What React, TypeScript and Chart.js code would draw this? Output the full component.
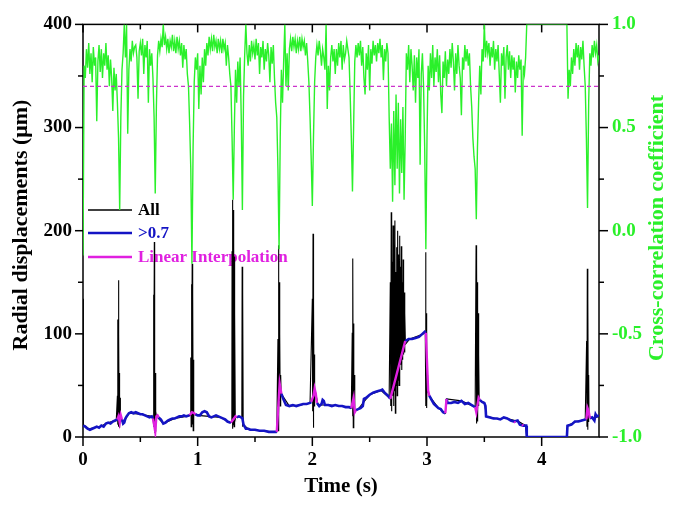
import React, { useEffect, useRef } from "react";
import { Chart, registerables } from "chart.js";

Chart.register(...registerables);

const FONT = "'Liberation Serif', 'Times New Roman', serif";
const GREEN = "#2af02a";
const BLUE = "#1414c4";
const MAGENTA = "#e020e0";

// axes
const xMajorTicks = [0, 1, 2, 3, 4];
const xMinorTicks = [0.5, 1.5, 2.5, 3.5];
const leftMajorTicks = [0, 100, 200, 300, 400];
const leftMinorTicks = [50, 150, 250, 350];
const rightMajorTicks = [-1.0, -0.5, 0.0, 0.5, 1.0];
const rightMinorTicks = [-0.75, -0.25, 0.25, 0.75];
const xRange = [0, 4.5];
const leftRange = [0, 400];
const rightRange = [-1, 1];
const threshold = 0.7;

const seriesNames = ["All", ">0.7", "Linear Interpolation"];
const xTitle = "Time (s)";
const leftTitle = "Radial displacements (\u03bcm)";
const rightTitle = "Cross-correlation coefficient";

// cross-correlation coefficient, sampled every 0.01 s from t = 0
const greenStep = 0.01;
const greenValues = [
  -0.12, 0.80, 0.74, 0.88, 0.79, 0.91, 0.76, 0.86, 0.72, 0.89,
  0.80, 0.84, 0.53, 0.82, 0.90, 0.77, 0.88, 0.74, 0.86, 0.80,
  0.91, 0.78, 0.85, 0.70, 0.83, 0.74, 0.58, 0.79, 0.68, 0.76,
  0.62, 0.45, 0.10, 0.55, 0.78, 0.86, 1.0, 0.84, 1.0, 0.47,
  0.78, 0.88, 0.82, 0.92, 0.86, 0.89, 0.90, 0.84, 0.64, 0.87,
  0.91, 0.85, 0.93, 0.76, 0.90, 0.84, 0.92, 0.62, 0.88, 0.80,
  0.86, 0.74, 0.55, 0.18, 0.60, 0.85, 0.92, 0.87, 0.93, 0.89,
  1.0, 0.90, 0.94, 0.88, 0.93, 0.86, 0.92, 0.89, 0.95, 0.87,
  0.92, 0.86, 0.94, 0.88, 0.92, 0.85, 0.91, 0.79, 0.90, 0.83,
  0.88, 0.76, 0.70, 0.52, 0.30, -0.16, 0.40, 0.72, 0.84, 0.78,
  0.86, 0.59, 0.80, 0.66, 0.84, 0.72, 0.88, 0.80, 0.91, 0.85,
  0.94, 0.88, 0.93, 0.87, 0.95, 0.89, 0.92, 0.86, 0.93, 0.88,
  0.92, 0.86, 0.93, 0.88, 0.91, 0.80, 0.90, 0.84, 0.76, 0.70,
  0.45, 0.15, 0.50, 0.78, 0.62, 0.82, 0.70, 0.84, 0.55, 0.10,
  0.65, 0.85, 1.0, 0.86, 0.80, 0.90, 0.82, 0.92, 0.86, 0.90,
  0.83, 0.93, 0.85, 0.91, 0.76, 0.89, 0.84, 0.92, 0.78, 0.88,
  0.82, 0.91, 0.85, 0.72, 0.89, 0.81, 0.90, 0.74, 0.62, 0.55,
  0.30, -0.09, 0.45, 0.78, 0.62, 0.82, 1.0, 0.70, 0.86, 0.68,
  0.88, 0.93, 0.87, 0.94, 0.89, 0.93, 0.86, 0.92, 0.88, 0.94,
  0.87, 0.93, 0.89, 0.92, 0.85, 0.91, 0.82, 0.72, 0.55, 0.35,
  0.12, 0.45, 0.72, 0.84, 0.90, 0.85, 0.92, 0.87, 0.80, 0.88,
  0.84, 0.78, 1.0, 0.59, 0.80, 0.68, 0.84, 0.90, 0.82, 0.88,
  0.76, 0.88, 0.80, 0.91, 0.84, 0.92, 0.78, 0.90, 0.83, 0.86,
  0.92, 0.88, 0.84, 0.66, 0.45, 0.19, 0.50, 0.82, 0.90, 0.84,
  0.91, 0.85, 0.92, 0.80, 0.89, 0.74, 0.66, 0.86, 0.78, 0.90,
  0.68, 0.88, 0.81, 0.92, 0.85, 0.90, 0.82, 0.91, 0.86, 0.93,
  0.84, 0.90, 0.73, 0.88, 0.82, 0.91, 0.86, 0.55, 0.30, 0.52,
  0.14, 0.58, 0.22, 0.66, 0.30, 0.62, 0.18, 0.54, 0.28, 0.60,
  0.15, 0.45, 0.86, 0.78, 0.90, 0.72, 0.88, 0.80, 0.68, 0.85,
  0.62, 0.84, 0.74, 0.88, 0.32, 0.76, 0.86, 0.70, 0.40, -0.09,
  0.45, 0.80, 0.68, 0.86, 0.74, 0.90, 0.70, 0.84, 0.77, 0.88,
  0.72, 0.85, 0.66, 0.57, 0.82, 0.74, 0.87, 0.70, 0.83, 0.76,
  0.88, 0.79, 0.91, 0.82, 0.68, 0.86, 0.76, 0.90, 0.80, 0.74,
  0.56, 0.84, 0.78, 0.90, 0.82, 0.88, 0.80, 0.86, 0.70, 0.60,
  0.45, 0.36, 0.30, 0.055, 0.40, 0.62, 0.80, 0.66, 0.88, 0.82,
  1.0, 0.84, 0.92, 0.86, 0.91, 0.80, 0.89, 0.84, 0.92, 0.78,
  0.88, 0.82, 0.90, 0.76, 0.62, 0.86, 0.80, 0.89, 0.64, 0.84,
  0.90, 0.78, 0.87, 0.74, 0.85, 0.78, 0.84, 0.67, 0.82, 0.74,
  0.85, 0.78, 0.83, 0.46, 0.80, 0.76, 0.84, 1.0, 1.0, 1.0,
  1.0, 1.0, 1.0, 1.0, 1.0, 1.0, 1.0, 1.0, 1.0, 1.0,
  1.0, 1.0, 1.0, 1.0, 1.0, 1.0, 1.0, 1.0, 1.0, 1.0,
  1.0, 1.0, 1.0, 1.0, 1.0, 1.0, 1.0, 1.0, 1.0, 1.0,
  1.0, 1.0, 1.0, 0.64, 0.78, 0.70, 0.84, 0.76, 0.88, 0.80,
  0.91, 0.84, 0.90, 0.78, 0.89, 0.83, 0.92, 0.80, 0.70, 0.45,
  0.11, 0.62, 0.86, 0.80, 0.90, 0.84, 0.92, 0.86, 0.90, 0.82,
  0.85,
];

// [time (s), displacement (um)] — "All"
const allSeries: [number, number][] = [
  [0.0, 134], [0.003, 12], [0.05, 8], [0.1, 9], [0.15, 10], [0.2, 13], [0.25, 15], [0.29, 16],
  [0.3, 40], [0.302, 12], [0.305, 114], [0.307, 15], [0.309, 152], [0.311, 10], [0.313, 100], [0.315, 18], [0.318, 62], [0.32, 9], [0.323, 38], [0.326, 20],
  [0.35, 13], [0.4, 23], [0.5, 22], [0.6, 20],
  [0.612, 18], [0.615, 138], [0.618, 10], [0.622, 189], [0.625, 4], [0.628, 62], [0.632, 5], [0.636, 25], [0.64, 20],
  [0.7, 13], [0.8, 18], [0.9, 20], [0.935, 21],
  [0.94, 77], [0.943, 10], [0.946, 148], [0.949, 18], [0.952, 168], [0.955, 12], [0.958, 140], [0.961, 6], [0.964, 75], [0.967, 20], [0.97, 23],
  [1.0, 21], [1.1, 20], [1.2, 19], [1.28, 14],
  [1.298, 14], [1.3, 180], [1.302, 8], [1.304, 230], [1.306, 10], [1.308, 200], [1.31, 12], [1.312, 220], [1.314, 15], [1.316, 190], [1.318, 10], [1.32, 175], [1.322, 18], [1.325, 120], [1.328, 20], [1.33, 19],
  [1.36, 20], [1.385, 18], [1.388, 165], [1.391, 10], [1.394, 140], [1.397, 12], [1.4, 12], [1.45, 7], [1.55, 6], [1.65, 5], [1.69, 5],
  [1.7, 95], [1.702, 6], [1.705, 186], [1.708, 20], [1.711, 150], [1.714, 35], [1.717, 100], [1.72, 30], [1.724, 60], [1.728, 42], [1.8, 30], [1.9, 31], [1.98, 33],
  [2.0, 134], [2.003, 25], [2.006, 197], [2.009, 9], [2.012, 130], [2.015, 30], [2.018, 80], [2.022, 35], [2.03, 42], [2.05, 31], [2.15, 31], [2.25, 30], [2.34, 28],
  [2.348, 101], [2.351, 20], [2.354, 173], [2.357, 9], [2.36, 110], [2.363, 15], [2.366, 60], [2.37, 25], [2.4, 27], [2.5, 41], [2.6, 45], [2.67, 38],
  [2.68, 150], [2.684, 30], [2.688, 218], [2.692, 25], [2.696, 170], [2.7, 40], [2.704, 205], [2.708, 30], [2.712, 191], [2.716, 45], [2.72, 210], [2.724, 23], [2.728, 160], [2.732, 50], [2.736, 184], [2.74, 40], [2.744, 200], [2.748, 55], [2.752, 177], [2.756, 50], [2.76, 195], [2.764, 60], [2.768, 165], [2.772, 70], [2.776, 185], [2.78, 65], [2.784, 150], [2.788, 75], [2.792, 172], [2.796, 80], [2.8, 140], [2.804, 82], [2.808, 120], [2.812, 90],
  [2.85, 95], [2.95, 99], [2.985, 101],
  [2.988, 179], [2.991, 30], [2.994, 120], [2.997, 28], [3.0, 60], [3.005, 45], [3.02, 40], [3.1, 28], [3.16, 23], [3.17, 37], [3.3, 35], [3.42, 29],
  [3.428, 186], [3.431, 13], [3.434, 168], [3.437, 20], [3.44, 150], [3.443, 15], [3.446, 120], [3.449, 30], [3.452, 80], [3.455, 36], [3.5, 33], [3.52, 20], [3.6, 18], [3.7, 18], [3.8, 15], [3.86, 11], [3.87, 0], [4.22, 0], [4.225, 11], [4.3, 15], [4.38, 17],
  [4.392, 93], [4.395, 10], [4.398, 163], [4.401, 7], [4.404, 134], [4.407, 15], [4.41, 60], [4.413, 20], [4.45, 18], [4.5, 20],
];

// [time (s), displacement (um)] — samples with coefficient > 0.7 (null = gap)
const aboveSeries: [number, number | null][] = [
  [0.0, 11], [0.02, 10], [0.04, 8], [0.06, 7], [0.08, 8], [0.1, 9], [0.12, 10], [0.14, 9], [0.16, 11], [0.18, 10], [0.2, 13], [0.22, 14], [0.24, 13], [0.26, 15], [0.28, 16], [0.3, 17], [0.305, null],
  [0.34, 17], [0.35, 13], [0.36, 14], [0.37, 18], [0.38, 20], [0.4, 23], [0.42, 24], [0.44, 23], [0.46, 24], [0.48, 23], [0.5, 22], [0.52, 22], [0.54, 21], [0.56, 20], [0.58, 19], [0.6, 20], [0.61, 18], [0.615, null],
  [0.66, 19], [0.68, 17], [0.7, 13], [0.72, 14], [0.74, 16], [0.76, 17], [0.78, 18], [0.8, 18], [0.82, 19], [0.84, 20], [0.86, 20], [0.88, 21], [0.9, 20], [0.93, 21], [0.935, null],
  [0.98, 22], [1.0, 21], [1.02, 21], [1.04, 24], [1.06, 25], [1.08, 24], [1.1, 20], [1.12, 19], [1.14, 20], [1.16, 21], [1.18, 20], [1.2, 19], [1.22, 18], [1.24, 17], [1.26, 15], [1.28, 14], [1.29, 14], [1.295, null],
  [1.34, 19], [1.36, 20], [1.38, 19], [1.39, 18], [1.4, 12], [1.42, 8], [1.44, 8], [1.46, 7], [1.5, 7], [1.54, 6], [1.58, 6], [1.62, 5], [1.66, 5], [1.69, 5], [1.695, null],
  [1.73, 42], [1.75, 36], [1.77, 31], [1.8, 30], [1.83, 31], [1.86, 30], [1.89, 31], [1.92, 32], [1.95, 32], [1.98, 33], [1.99, 34], [1.995, null],
  [2.04, 33], [2.06, 30], [2.08, 32], [2.09, 36], [2.1, 35], [2.11, 31], [2.14, 31], [2.17, 30], [2.2, 31], [2.23, 30], [2.26, 30], [2.29, 29], [2.32, 29], [2.34, 28], [2.345, null],
  [2.38, 26], [2.4, 27], [2.42, 28], [2.44, 30], [2.45, 37], [2.47, 38], [2.5, 41], [2.53, 43], [2.56, 44], [2.59, 45], [2.61, 46], [2.63, 43], [2.66, 40], [2.68, 37], [2.685, null],
  [2.81, 93], [2.84, 95], [2.87, 95], [2.9, 96], [2.93, 97], [2.96, 100], [2.98, 102], [2.99, 101], [2.995, null],
  [3.02, 40], [3.04, 36], [3.06, 32], [3.08, 30], [3.1, 28], [3.12, 27], [3.14, 24], [3.16, 23], [3.162, null],
  [3.17, 37], [3.18, 33], [3.21, 33], [3.24, 34], [3.27, 33], [3.3, 35], [3.33, 32], [3.36, 33], [3.39, 31], [3.42, 29], [3.425, null],
  [3.46, 36], [3.48, 34], [3.5, 33], [3.51, 30], [3.515, 20], [3.55, 19], [3.58, 18], [3.61, 18], [3.64, 17], [3.67, 19], [3.7, 18], [3.73, 16], [3.76, 15], [3.79, 16], [3.81, 12], [3.84, 11], [3.865, 11], [3.87, 0], [3.9, 0], [4.0, 0], [4.1, 0], [4.22, 0], [4.225, 11], [4.26, 12], [4.29, 15], [4.32, 15], [4.35, 16], [4.38, 17], [4.39, 17], [4.395, null],
  [4.42, 18], [4.44, 19], [4.46, 16], [4.47, 22], [4.48, 20], [4.5, 21],
];

// [time (s), displacement (um)] — linear interpolation across gaps (null = break)
const interpSeries: [number, number | null][] = [
  [0.3, 17], [0.31, 20], [0.32, 14], [0.33, 21], [0.34, 17], [0.345, null],
  [0.61, 18], [0.62, 12], [0.63, 5], [0.64, 20], [0.65, 21], [0.66, 19], [0.665, null],
  [0.93, 21], [0.95, 24], [0.97, 23], [0.98, 22], [0.985, null],
  [1.29, 14], [1.31, 17], [1.33, 20], [1.34, 19], [1.345, null],
  [1.69, 5], [1.715, 52], [1.73, 42], [1.735, null],
  [1.99, 34], [2.01, 40], [2.02, 47], [2.03, 42], [2.04, 33], [2.045, null],
  [2.34, 28], [2.36, 38], [2.37, 24], [2.38, 26], [2.385, null],
  [2.68, 37], [2.81, 93], [2.815, null],
  [2.99, 101], [3.01, 45], [3.02, 40], [3.025, null],
  [3.16, 23], [3.17, 37], [3.175, null],
  [3.42, 29], [3.43, 24], [3.45, 38], [3.46, 36], [3.465, null],
  [3.76, 15], [3.77, 14], [3.775, null],
  [3.83, 12], [3.84, 11], [3.845, null],
  [4.39, 17], [4.4, 28], [4.41, 25], [4.42, 18],
];

const legendColors = ["#000000", BLUE, MAGENTA];

const decorPlugin = {
  id: "decor",
  beforeDatasetsDraw(chart: any) {
    const { ctx, chartArea: a, scales } = chart;
    ctx.save();
    ctx.strokeStyle = "#000";
    ctx.lineWidth = 1.5;
    ctx.strokeRect(a.left, a.top, a.right - a.left, a.bottom - a.top);
    const line = (x1: number, y1: number, x2: number, y2: number) => {
      ctx.beginPath();
      ctx.moveTo(x1, y1);
      ctx.lineTo(x2, y2);
      ctx.stroke();
    };
    xMajorTicks.forEach((v) => {
      const px = scales.x.getPixelForValue(v);
      line(px, a.bottom, px, a.bottom + 9);
      line(px, a.top, px, a.top + 8);
    });
    xMinorTicks.forEach((v) => {
      const px = scales.x.getPixelForValue(v);
      line(px, a.bottom, px, a.bottom + 5);
      line(px, a.top, px, a.top + 5);
    });
    leftMajorTicks.forEach((v) => {
      const py = scales.y.getPixelForValue(v);
      line(a.left - 8, py, a.left, py);
    });
    leftMinorTicks.forEach((v) => {
      const py = scales.y.getPixelForValue(v);
      line(a.left - 5, py, a.left, py);
    });
    rightMajorTicks.forEach((v) => {
      const py = scales.y2.getPixelForValue(v);
      line(a.right, py, a.right + 9, py);
    });
    rightMinorTicks.forEach((v) => {
      const py = scales.y2.getPixelForValue(v);
      line(a.right, py, a.right + 5, py);
    });

    // legend
    const legendY = [210, 233, 257];
    const widths = [1.3, 2.4, 2.4];
    ctx.font = `bold 17px ${FONT}`;
    ctx.textBaseline = "middle";
    ctx.textAlign = "left";
    seriesNames.forEach((name, i) => {
      ctx.strokeStyle = legendColors[i];
      ctx.lineWidth = widths[i];
      line(88, legendY[i], 132, legendY[i]);
      ctx.fillStyle = legendColors[i];
      ctx.fillText(name, 138, legendY[i] + 1);
    });
    ctx.restore();
  },
  afterDraw(chart: any) {
    const { ctx } = chart;
    ctx.save();
    ctx.textAlign = "center";
    ctx.textBaseline = "alphabetic";
    ctx.fillStyle = "#000";
    ctx.font = `bold 21px ${FONT}`;
    ctx.fillText(xTitle, 341, 492);

    ctx.font = `bold 22px ${FONT}`;
    ctx.save();
    ctx.translate(27, 225);
    ctx.rotate(-Math.PI / 2);
    ctx.fillText(leftTitle, 0, 0);
    ctx.restore();

    ctx.save();
    ctx.fillStyle = GREEN;
    ctx.translate(663, 228);
    ctx.rotate(-Math.PI / 2);
    ctx.fillText(rightTitle, 0, 0);
    ctx.restore();
    ctx.restore();
  },
};

export default function App() {
  const ref = useRef<HTMLCanvasElement | null>(null);

  useEffect(() => {
    if (!ref.current) return;
    const tickFont = { family: FONT, size: 19, weight: "bold" as const };
    const chart = new Chart(ref.current, {
      type: "line",
      data: {
        datasets: [
          {
            label: "threshold",
            data: [
              { x: xRange[0], y: threshold },
              { x: xRange[1], y: threshold },
            ],
            yAxisID: "y2",
            borderColor: "#cc33cc",
            borderWidth: 1.3,
            borderDash: [4, 3],
            pointRadius: 0,
            order: 0,
          },
          {
            label: "coefficient",
            data: greenValues.map((v, i) => ({ x: i * greenStep, y: v })),
            yAxisID: "y2",
            borderColor: GREEN,
            borderWidth: 1.4,
            pointRadius: 0,
            order: 1,
          },
          {
            label: seriesNames[2],
            data: interpSeries.map(([x, y]) => ({ x, y })),
            yAxisID: "y",
            borderColor: MAGENTA,
            borderWidth: 2.4,
            pointRadius: 0,
            spanGaps: false,
            order: 2,
          },
          {
            label: seriesNames[1],
            data: aboveSeries.map(([x, y]) => ({ x, y })),
            yAxisID: "y",
            borderColor: BLUE,
            borderWidth: 2.6,
            pointRadius: 0,
            spanGaps: false,
            order: 3,
          },
          {
            label: seriesNames[0],
            data: allSeries.map(([x, y]) => ({ x, y })),
            yAxisID: "y",
            borderColor: "#000000",
            borderWidth: 1.1,
            pointRadius: 0,
            order: 4,
          },
        ] as any,
      },
      options: {
        responsive: false,
        animation: false,
        layout: { padding: { top: 20, left: 0, right: 0, bottom: 0 } },
        plugins: { legend: { display: false }, tooltip: { enabled: false } },
        elements: { line: { tension: 0 } },
        scales: {
          x: {
            type: "linear",
            min: xRange[0],
            max: xRange[1],
            grid: { display: false, drawTicks: false },
            border: { display: false },
            ticks: {
              stepSize: 1,
              includeBounds: false,
              padding: 12,
              color: "#000",
              font: tickFont,
              maxRotation: 0,
              callback: (v: any) => (xMajorTicks.includes(Number(v)) ? String(v) : ""),
            },
            afterFit: (s: any) => {
              s.height = 69;
            },
          },
          y: {
            type: "linear",
            position: "left",
            min: leftRange[0],
            max: leftRange[1],
            grid: { display: false, drawTicks: false },
            border: { display: false },
            ticks: {
              stepSize: 100,
              padding: 11,
              color: "#000",
              font: tickFont,
              callback: (v: any) => (leftMajorTicks.includes(Number(v)) ? String(v) : ""),
            },
            afterFit: (s: any) => {
              s.width = 83;
            },
          },
          y2: {
            type: "linear",
            position: "right",
            min: rightRange[0],
            max: rightRange[1],
            grid: { display: false, drawTicks: false },
            border: { display: false },
            ticks: {
              stepSize: 0.5,
              padding: 13,
              color: GREEN,
              font: tickFont,
              callback: (v: any) => Number(v).toFixed(1),
            },
            afterFit: (s: any) => {
              s.width = 76;
            },
          },
        },
      } as any,
      plugins: [decorPlugin],
    });
    return () => chart.destroy();
  }, []);

  return (
    <div style={{ position: "fixed", left: 0, top: 0, width: 675, height: 506, background: "#fff" }}>
      <canvas ref={ref} width={675} height={506} style={{ display: "block" }} />
    </div>
  );
}
